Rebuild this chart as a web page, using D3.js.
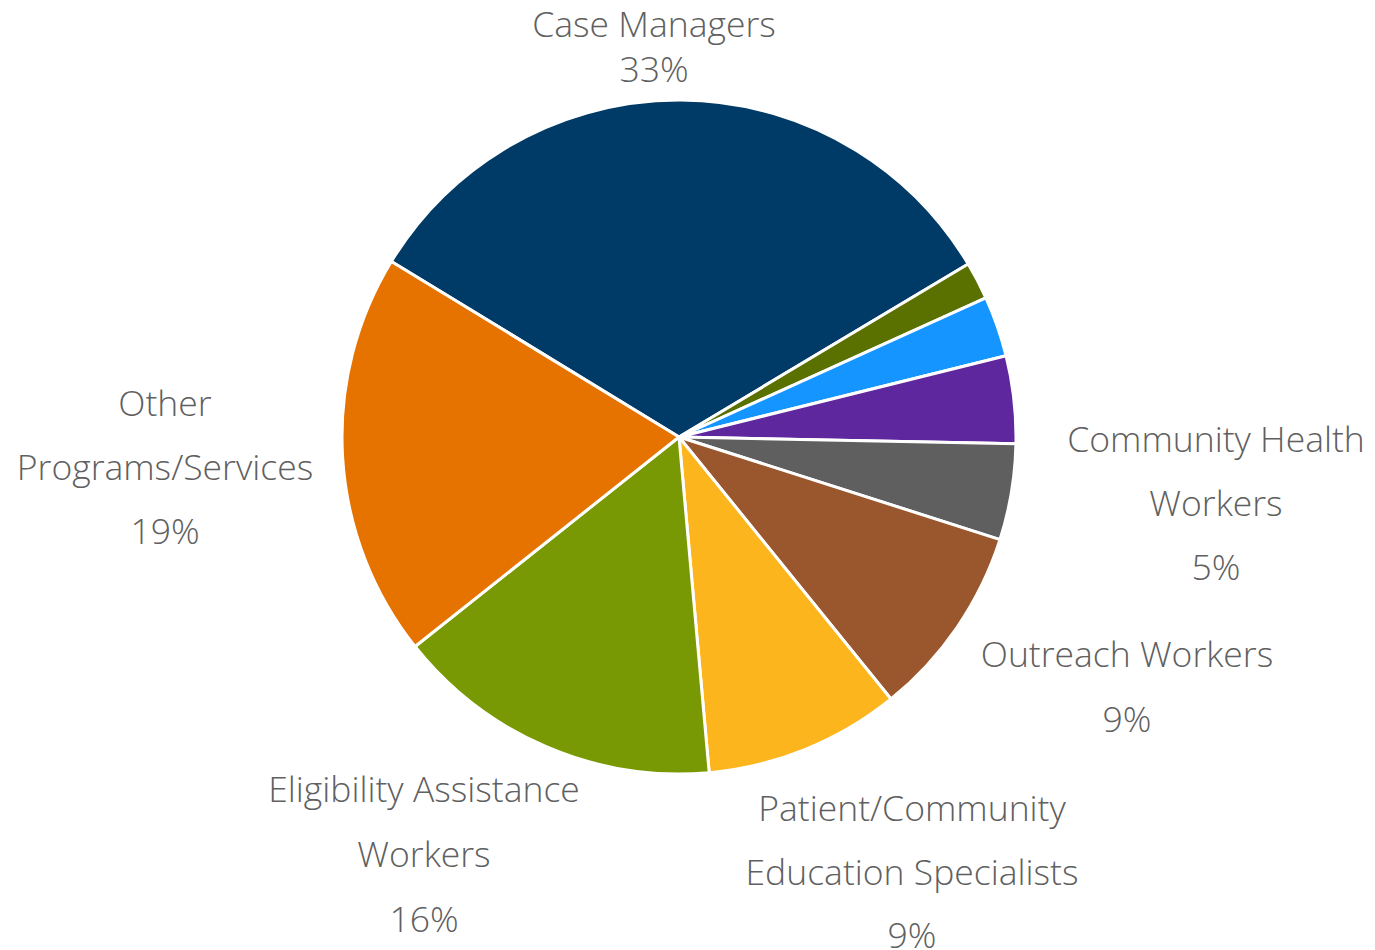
<!DOCTYPE html>
<html>
<head>
<meta charset="utf-8">
<script src="https://cdn.jsdelivr.net/npm/d3@7"></script>
<style>
  html, body { margin: 0; padding: 0; background: #fff; }
  svg { display: block; }
  .lbl { font-family: "Open Sans", "Noto Sans", sans-serif; font-weight: 300; fill: #606060; }
</style>
</head>
<body>
<svg id="chart" width="1375" height="950"></svg>
<script>
// Share of staff by role (percent), clockwise from the top-left edge
const categories = [
  "Case Managers", "", "", "",
  "Community Health Workers", "Outreach Workers",
  "Patient/Community Education Specialists",
  "Eligibility Assistance Workers", "Other Programs/Services"
];
const values = [32.7, 1.8, 2.9, 4.2, 4.6, 9.25, 9.4, 15.75, 19.4];
const colors = [
  "#003B67", "#5A7100", "#1595FF", "#5E279E", "#5F5F5F",
  "#9A562C", "#FDB51D", "#789904", "#E67200"
];
// Label text lines for each slice (percent line appended from the value)
const labelLines = [
  ["Case Managers"], [], [], [],
  ["Community Health", "Workers"], ["Outreach Workers"],
  ["Patient/Community", "Education Specialists"],
  ["Eligibility Assistance", "Workers"], ["Other", "Programs/Services"]
];

// Layout
const cx = 679, cy = 437, radius = 337;
const startDeg = -58.6;
const labelLayout = [
  { x: 654, y: 37, step: 45 }, null, null, null,
  { x: 1216, y: 452, step: 64 },
  { x: 1127, y: 667, step: 65 },
  { x: 912, y: 821, step: 63.5 },
  { x: 424, y: 802, step: 65 },
  { x: 165, y: 416, step: 64 }
];
const fontSize = 35.5;

const svg = d3.select("#chart");
const total = d3.sum(values);
const start = startDeg * Math.PI / 180;

const pie = d3.pie().sort(null).value(d => d.value)
  .startAngle(start).endAngle(start + 2 * Math.PI);
const arc = d3.arc().innerRadius(0).outerRadius(radius);

const data = values.map((v, i) => ({ name: categories[i], value: v, color: colors[i], lines: labelLines[i], layout: labelLayout[i] }));

const g = svg.append("g").attr("transform", `translate(${cx},${cy})`);
g.selectAll("path").data(pie(data)).join("path")
  .attr("d", arc)
  .attr("fill", d => d.data.color)
  .attr("stroke", "#fff")
  .attr("stroke-width", 3)
  .attr("stroke-linejoin", "round");

const fmt = v => Math.round(v / total * 100) + "%";

data.forEach(d => {
  if (!d.layout) return;
  const lines = d.lines.concat([fmt(d.value)]);
  const t = svg.append("text").attr("class", "lbl")
    .attr("text-anchor", "middle")
    .attr("font-size", fontSize);
  lines.forEach((ln, j) => {
    t.append("tspan").attr("x", d.layout.x).attr("y", d.layout.y + j * d.layout.step).text(ln);
  });
});
</script>
</body>
</html>
